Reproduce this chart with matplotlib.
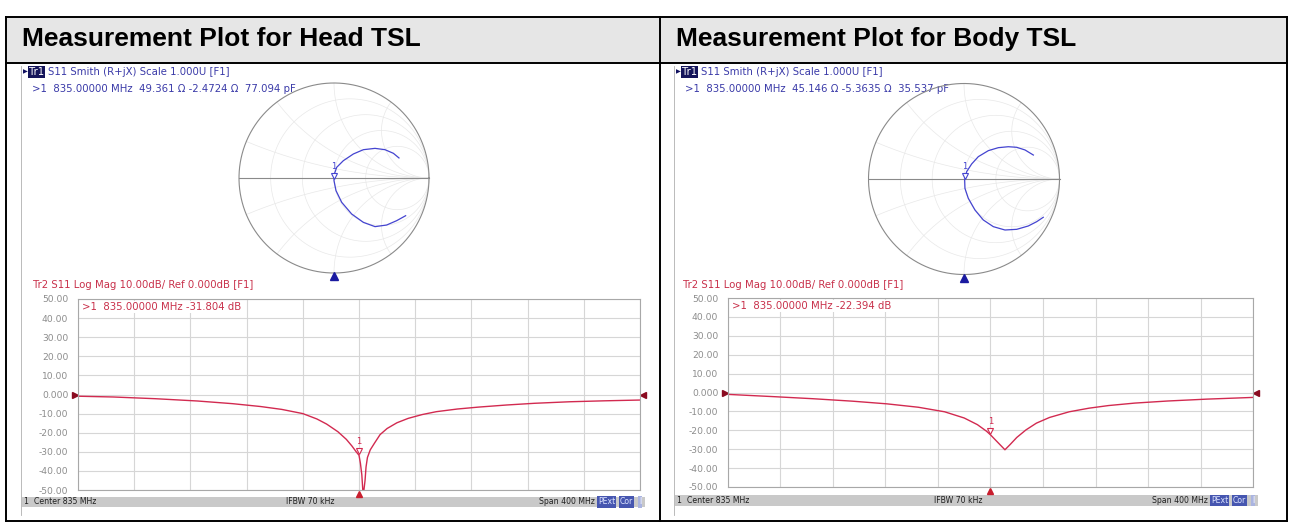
import numpy as np
import matplotlib
matplotlib.use('Agg')
import matplotlib.pyplot as plt
import matplotlib.transforms as mtransforms
from matplotlib.patches import Rectangle

W, H = 1293, 523

titles = ['Measurement Plot for Head TSL', 'Measurement Plot for Body TSL']
smith_titles = ['S11 Smith (R+jX) Scale 1.000U [F1]'] * 2
smith_readouts = ['>1  835.00000 MHz  49.361 Ω -2.4724 Ω  77.094 pF',
                  '>1  835.00000 MHz  45.146 Ω -5.3635 Ω  35.537 pF']
logmag_titles = ['Tr2 S11 Log Mag 10.00dB/ Ref 0.000dB [F1]'] * 2
logmag_readouts = ['>1  835.00000 MHz -31.804 dB', '>1  835.00000 MHz -22.394 dB']
status_left = '1  Center 835 MHz'
status_mid = 'IFBW 70 kHz'
status_right = 'Span 400 MHz'

# Smith traces (reflection coefficient)
head_re = [0.684, 0.625, 0.537, 0.432, 0.309, 0.204, 0.098, 0.028, 0.004, 0.0,
           0.021, 0.081, 0.186, 0.309, 0.432, 0.554, 0.660, 0.754]
head_im = [0.211, 0.260, 0.298, 0.312, 0.298, 0.253, 0.182, 0.112, 0.042, -0.028,
           -0.133, -0.256, -0.379, -0.467, -0.512, -0.495, -0.449, -0.397]
body_re = [0.726, 0.639, 0.552, 0.464, 0.359, 0.255, 0.150, 0.080, 0.028, 0.007,
           0.010, 0.045, 0.115, 0.202, 0.307, 0.429, 0.552, 0.673, 0.761, 0.830]
body_im = [0.251, 0.304, 0.332, 0.338, 0.328, 0.297, 0.234, 0.157, 0.077, -0.010,
           -0.098, -0.202, -0.325, -0.429, -0.499, -0.534, -0.527, -0.492, -0.447, -0.401]
head_smith_marker = (0.0, -0.025)
body_smith_marker = (0.007, -0.01)

# Log mag traces (MHz, dB)
head_f = [635, 660, 690, 720, 745, 765, 780, 795, 805, 812, 820, 826, 830, 833, 835, 836, 837,
          837.7, 838.5, 839.3, 840, 841, 843, 846, 850, 855, 862, 870, 880, 890, 905, 920,
          940, 960, 985, 1010, 1035]
head_db = [-0.9, -1.3, -2.2, -3.4, -4.8, -6.3, -7.8, -10.0, -12.8, -15.5, -19.5, -23.5, -27,
           -30, -31.8, -36, -42, -50, -50, -45, -38, -33, -29, -25.5, -21, -17.8, -14.8, -12.5,
           -10.5, -9.0, -7.6, -6.6, -5.5, -4.6, -3.8, -3.3, -2.9]
body_f = [635, 670, 700, 730, 756, 780, 800, 815, 825, 832, 835, 840, 846, 850, 855, 862, 870,
          880, 895, 910, 925, 945, 970, 1000, 1035]
body_db = [-1.0, -2.2, -3.3, -4.6, -6.0, -7.8, -10.2, -13.5, -17, -20.5, -22.4, -26, -30.3,
           -27.5, -23.8, -19.8, -16.2, -13.2, -10.2, -8.3, -6.9, -5.6, -4.5, -3.5, -2.6]
marker_f = 835
marker_db = [-31.804, -22.394]

center_mhz, span_mhz = 835, 400

BLUE_TXT = '#3a3aa8'
RED_TXT = '#c8304a'
TRACE_BLUE = '#4444d0'
TRACE_RED = '#d22a50'
SMALL = 7.3

fig = plt.figure(figsize=(W / 100, H / 100), dpi=100)
bg = fig.add_axes([0, 0, 1, 1])
bg.set_xlim(0, W)
bg.set_ylim(H, 0)
bg.axis('off')


def px_axes(x0, y0, x1, y1):
    return fig.add_axes([x0 / W, 1 - y1 / H, (x1 - x0) / W, (y1 - y0) / H])


# table
bg.add_patch(Rectangle((6, 17), 1281, 46, fc='#e6e6e6', ec='none'))
for xs, ys in [([6, 1287], [17, 17]), ([6, 1287], [63, 63]), ([6, 1287], [521, 521]),
               ([6, 6], [17, 521]), ([660, 660], [17, 521]), ([1287, 1287], [17, 521])]:
    bg.plot(xs, ys, color='black', lw=1.4, solid_capstyle='projecting')
bg.text(22, 39, titles[0], fontsize=19, fontweight='bold', family='Liberation Sans', va='center')
bg.text(676, 39, titles[1], fontsize=19, fontweight='bold', family='Liberation Sans', va='center')

panels = [
    dict(x0=22, smith=(334, 178, 95), plot=(78, 299, 640, 490), status=(22, 497, 645, 507),
         mid=310, re=head_re, im=head_im, mk=head_smith_marker, f=head_f, db=head_db),
    dict(x0=675, smith=(964, 179, 95.5), plot=(728, 298, 1253, 487), status=(675, 495, 1258, 506),
         mid=958, re=body_re, im=body_im, mk=body_smith_marker, f=body_f, db=body_db),
]

for i, p in enumerate(panels):
    x0 = p['x0']
    # screenshot frame
    bg.plot([x0 - 1, x0 - 1], [66, 515], color='#b0b0b0', lw=0.6)

    # Smith header texts
    bg.text(x0 + 1, 72, '\u25b6', fontsize=4.5, color='#101060', va='center')
    bg.text(x0 + 7, 72, 'Tr1', fontsize=SMALL, color='white', va='center',
            bbox=dict(boxstyle='square,pad=0.05', fc='#14145a', ec='none'))
    bg.text(x0 + 26, 72, smith_titles[i], fontsize=SMALL, color=BLUE_TXT, va='center')
    bg.text(x0 + 10, 89, smith_readouts[i], fontsize=SMALL, color=BLUE_TXT, va='center')

    # Smith chart
    cx, cy, r = p['smith']
    lim = 1.12
    sax = px_axes(cx - r * lim, cy - r * lim, cx + r * lim, cy + r * lim)
    sax.set_xlim(-lim, lim)
    sax.set_ylim(-lim, lim)
    sax.axis('off')
    sax.patch.set_visible(False)
    t = np.linspace(0, 2 * np.pi, 400)
    grid_c = '#e8e8e8'
    for rr in [0.2, 0.5, 1, 2]:
        sax.plot(rr / (1 + rr) + np.cos(t) / (1 + rr), np.sin(t) / (1 + rr), color=grid_c, lw=0.5)
    rvals = np.concatenate([[0], np.logspace(-3, 3, 400)])
    for xx in [0.2, 0.5, 1, 2, -0.2, -0.5, -1, -2]:
        z = rvals + 1j * xx
        g = (z - 1) / (z + 1)
        sax.plot(g.real, g.imag, color=grid_c, lw=0.5)
    sax.plot(np.cos(t), np.sin(t), color='#8a8a8a', lw=0.8)
    sax.plot([-1, 1], [0, 0], color='#8a8a8a', lw=0.8)
    sax.plot(p['re'], p['im'], color=TRACE_BLUE, lw=0.9)
    mx, my = p['mk']
    up = mtransforms.offset_copy(sax.transData, fig=fig, x=0, y=3, units='points')
    sax.plot(mx, my, marker='v', ms=5, mfc='white', mec=TRACE_BLUE, mew=0.8, transform=up)
    sax.annotate('1', (mx, my), xytext=(0, 8), textcoords='offset points', ha='center',
                 fontsize=6, color=TRACE_BLUE)
    sax.plot(0, -1.035, marker='^', ms=6, color='#1a1aa0', clip_on=False)

    # Log mag chart
    px0, py0, px1, py1 = p['plot']
    bg.text(px0 - 45, 285, logmag_titles[i], fontsize=SMALL, color=RED_TXT, va='center')
    ax = px_axes(px0, py0, px1, py1)
    ax.set_xlim(center_mhz - span_mhz / 2, center_mhz + span_mhz / 2)
    ax.set_ylim(-50, 50)
    ax.set_xticks(np.linspace(center_mhz - span_mhz / 2, center_mhz + span_mhz / 2, 11))
    ax.set_yticks(range(-50, 51, 10))
    ax.set_yticklabels(['%.2f' % v if v else '0.000' for v in range(-50, 51, 10)])
    ax.tick_params(length=0, labelsize=6.6, labelcolor='#8c8c8c', pad=7)
    ax.tick_params(axis='x', labelbottom=False)
    ax.grid(True, color='#d6d6d6', lw=0.8)
    for s in ax.spines.values():
        s.set_color('#a8a8a8')
        s.set_linewidth(0.8)
    ax.plot(p['f'], p['db'], color=TRACE_RED, lw=1.0)
    up = mtransforms.offset_copy(ax.transData, fig=fig, x=0, y=3, units='points')
    ax.plot(marker_f, marker_db[i], marker='v', ms=5, mfc='white', mec=TRACE_RED, mew=0.8, transform=up)
    ax.annotate('1', (marker_f, marker_db[i]), xytext=(0, 8), textcoords='offset points',
                ha='center', fontsize=6, color=TRACE_RED)
    ax.text(0.008, 0.985, logmag_readouts[i], transform=ax.transAxes, va='top', fontsize=SMALL,
            color=RED_TXT, bbox=dict(boxstyle='square,pad=0.1', fc='white', ec='none'))
    edge = mtransforms.blended_transform_factory(ax.transAxes, ax.transData)
    ax.plot(-0.006, 0, marker='>', ms=5, color='#8a0a20', transform=edge, clip_on=False)
    ax.plot(1.006, 0, marker='<', ms=5, color='#8a0a20', transform=edge, clip_on=False)
    down = mtransforms.offset_copy(ax.transData, fig=fig, x=0, y=-3, units='points')
    ax.plot(marker_f, -50, marker='^', ms=5, color='#c81e2e', transform=down, clip_on=False)

    # status bar
    sx0, sy0, sx1, sy1 = p['status']
    bg.add_patch(Rectangle((sx0, sy0), sx1 - sx0, sy1 - sy0, fc='#c9c9c9', ec='none'))
    ym = (sy0 + sy1) / 2
    bg.text(sx0 + 2, ym, status_left, fontsize=5.6, color='#202020', va='center')
    bg.text(p['mid'], ym, status_mid, fontsize=5.6, color='#202020', va='center', ha='center')
    bg.text(sx1 - 50, ym, status_right, fontsize=5.6, color='#202020', va='center', ha='right')
    bg.text(sx1 - 47, ym, 'PExt', fontsize=5.6, color='#dde4ff', va='center',
            bbox=dict(boxstyle='square,pad=0.15', fc='#4656b0', ec='none'))
    bg.text(sx1 - 25, ym, 'Cor', fontsize=5.6, color='#dde4ff', va='center',
            bbox=dict(boxstyle='square,pad=0.15', fc='#4656b0', ec='none'))
    bg.text(sx1 - 6, ym, 'I', fontsize=5.6, color='#ffffff', va='center',
            bbox=dict(boxstyle='square,pad=0.15', fc='#aab4e0', ec='none'))

fig.savefig('out.png', dpi=100)
